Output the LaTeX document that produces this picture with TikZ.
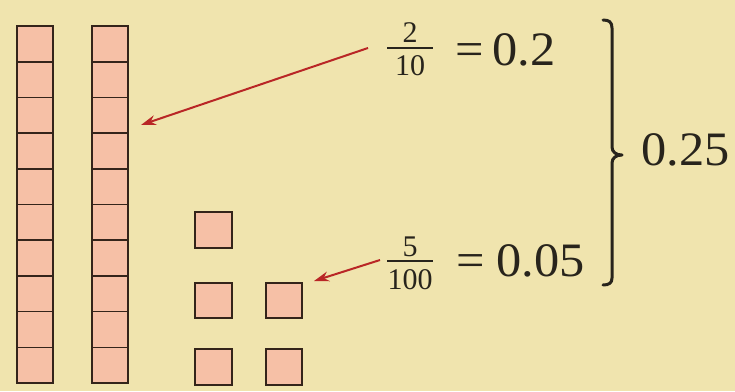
\documentclass[tikz,border=0pt]{standalone}
\usepackage{fontspec}
\setmainfont{Liberation Serif}
\newfontfamily\widefont[FakeStretch=1.05]{Liberation Serif}
\usetikzlibrary{arrows.meta}
\definecolor{bg}{RGB}{240,228,174}
\definecolor{cellfill}{RGB}{246,192,166}
\definecolor{edge}{RGB}{52,36,26}
\definecolor{arrowred}{RGB}{185,38,38}
\definecolor{ink}{RGB}{40,36,28}
\tikzset{
  cell/.style={fill=cellfill, draw=edge, line width=1.6pt},
  rod/.style={draw=edge, line width=2.6pt},
  unit/.style={fill=cellfill, draw=edge, line width=2.6pt},
  bigtxt/.style={inner sep=0pt, anchor=base west, font=\widefont\fontsize{48}{48}\selectfont, text=ink},
  smalltxt/.style={inner sep=0pt, anchor=base, font=\fontsize{30}{30}\selectfont, text=ink},
  fracbar/.style={draw=ink, line width=1.5pt},
  pointer/.style={draw=arrowred, line width=2pt, -{Stealth[length=15pt,width=10pt]}},
  brace/.style={draw=ink, line width=3pt, line cap=round, line join=round}
}
\begin{document}
\begin{tikzpicture}[x=1pt,y=-1pt]
\path[fill=bg] (0,0) rectangle (735,391);
\useasboundingbox (0,0) rectangle (735,391);

% tenths rods
\foreach \x in {17,92}{
  \foreach \i in {0,...,9}{
    \path[cell] (\x,{26+\i*35.7}) rectangle ({\x+36},{26+(\i+1)*35.7});
  }
  \path[rod] (\x,26) rectangle ({\x+36},383);
}

% hundredths units
\path[unit] (195,212) rectangle (232,248);
\path[unit] (195,283) rectangle (232,318);
\path[unit] (266,283) rectangle (302,318);
\path[unit] (195,349) rectangle (232,385);
\path[unit] (266,349) rectangle (302,385);

% labels
\node[smalltxt] (n1) at (410,42) {2};
\node[smalltxt] (d1) at (410,75) {10};
\path[fracbar] (387,48) -- (433,48);
\node[bigtxt] (q1) at (455,65) {=};
\node[bigtxt] (e1) at (492,65) {0.2};

\node[smalltxt] (n2) at (410,256) {5};
\node[smalltxt] (d2) at (410,289) {100};
\path[fracbar] (387,261) -- (433,261);
\node[bigtxt] (q2) at (456,276) {=};
\node[bigtxt] (e2) at (496,276) {0.05};

\node[bigtxt] (sum) at (641,165) {0.25};

% arrows
\coordinate (s1) at (368,48);
\coordinate (t1) at (141,125);
\coordinate (s2) at (380,260);
\coordinate (t2) at (314,281);
\draw[pointer] (s1) -- (t1);
\draw[pointer] (s2) -- (t2);

% brace
\draw[brace] (603,20) .. controls (609,20) and (612,22) .. (612,28)
  -- (612,147) .. controls (612,152) and (616,155) .. (622,155)
  .. controls (616,155) and (612,158) .. (612,163)
  -- (612,278) .. controls (612,283) and (609,285) .. (603,285);
\end{tikzpicture}
\end{document}
